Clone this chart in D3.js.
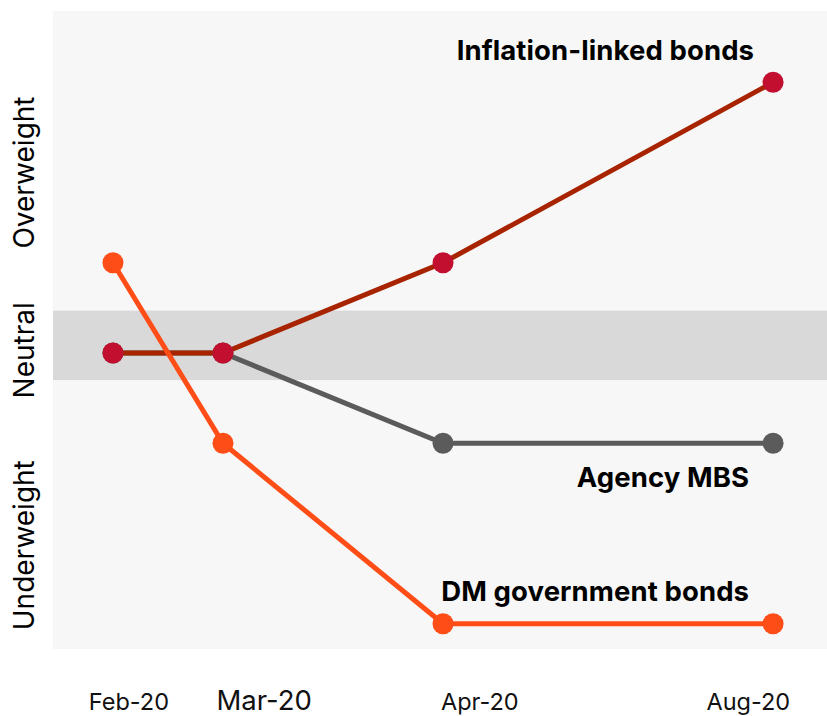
<!DOCTYPE html>
<html>
<head>
<meta charset="utf-8">
<script src="https://cdn.jsdelivr.net/npm/d3@7"></script>
<style>
  html, body { margin: 0; padding: 0; background: #ffffff; }
  svg { display: block; font-family: Inter, "Noto Sans", sans-serif; }
</style>
</head>
<body>
<svg id="chart" width="827" height="716"></svg>
<script>
// Periods on the x axis, as a month index counted from Feb-20
const periods = ["Feb-20", "Mar-20", "Apr-20", "Aug-20"];
const periodIndex = [0, 1, 3, 6];

// Where each period label sits along the month index
const periodLabelAt = [0.14, 1.37, 3.33, 5.77];

// Positioning: +3 strongest overweight, 0 neutral, -3 strongest underweight
const seriesNames = ["Agency MBS", "Inflation-linked bonds", "DM government bonds"];
const agencyMBS = [0, 0, -1, -1];
const inflationLinked = [0, 0, 1, 3];
const dmGovernment = [1, -1, -3, -3];

// Neutral zone and the stance labels along the y axis
const neutralBand = [-0.3, 0.47];
const stanceLabels = ["Overweight", "Neutral", "Underweight"];
const stanceAt = [2.0, 0.03, -2.13];

const svg = d3.select("#chart");
const plot = { left: 53, right: 827, top: 11, bottom: 649 };

const x = d3.scaleLinear().domain([-0.545, 6.49]).range([plot.left, plot.right]);
const y = d3.scaleLinear().domain([-3.28, 3.79]).range([plot.bottom, plot.top]);

// Plot backdrop and neutral band
svg.append("rect")
  .attr("x", plot.left).attr("y", plot.top)
  .attr("width", plot.right - plot.left).attr("height", plot.bottom - plot.top)
  .attr("fill", "#f7f7f7");

svg.append("rect")
  .attr("x", plot.left).attr("y", y(neutralBand[1]))
  .attr("width", plot.right - plot.left)
  .attr("height", y(neutralBand[0]) - y(neutralBand[1]))
  .attr("fill", "#d9d9d9");

// Stance labels, rotated up the left side
svg.selectAll("text.stance")
  .data(stanceLabels)
  .join("text")
  .attr("class", "stance")
  .attr("transform", (d, i) => `translate(34,${y(stanceAt[i])}) rotate(-90)`)
  .attr("text-anchor", "middle")
  .attr("font-size", 28)
  .attr("fill", "#000")
  .text(d => d);

// Period labels
const xAxis = d3.axisBottom(x)
  .tickValues(periodLabelAt)
  .tickSize(0)
  .tickFormat((d, i) => periods[i]);

const gx = svg.append("g")
  .attr("transform", "translate(0,688)")
  .call(xAxis);
gx.select(".domain").remove();
gx.selectAll("text")
  .attr("dy", 0)
  .attr("y", 22)
  .attr("fill", "#111")
  .attr("font-family", "Inter, sans-serif")
  .attr("font-size", (d, i) => i === 1 ? 27.5 : 23.5);

// Series lines and markers
const series = [
  { name: seriesNames[0], values: agencyMBS, line: "#5b5b5b", dot: "#5b5b5b", labelDx: -24, labelDy: 44 },
  { name: seriesNames[1], values: inflationLinked, line: "#a82300", dot: "#c20e2f", labelDx: -19, labelDy: -22 },
  { name: seriesNames[2], values: dmGovernment, line: "#ff4d17", dot: "#ff4d17", labelDx: -24, labelDy: -23 }
];

const line = d3.line()
  .x((d, i) => x(periodIndex[i]))
  .y(d => y(d));

svg.selectAll("path.series")
  .data(series)
  .join("path")
  .attr("class", "series")
  .attr("d", s => line(s.values))
  .attr("fill", "none")
  .attr("stroke", s => s.line)
  .attr("stroke-width", 5);

series.forEach(s => {
  svg.append("g")
    .selectAll("circle")
    .data(s.values)
    .join("circle")
    .attr("cx", (d, i) => x(periodIndex[i]))
    .attr("cy", d => y(d))
    .attr("r", 10.5)
    .attr("fill", s.dot);
});

// Series names beside their final points
svg.selectAll("text.series-label")
  .data(series)
  .join("text")
  .attr("class", "series-label")
  .attr("x", s => x(periodIndex[periodIndex.length - 1]) + s.labelDx)
  .attr("y", s => y(s.values[s.values.length - 1]) + s.labelDy)
  .attr("text-anchor", "end")
  .attr("font-size", 27.5)
  .attr("font-weight", 700)
  .attr("letter-spacing", 0.1)
  .attr("fill", "#000")
  .text(s => s.name);
</script>
</body>
</html>
